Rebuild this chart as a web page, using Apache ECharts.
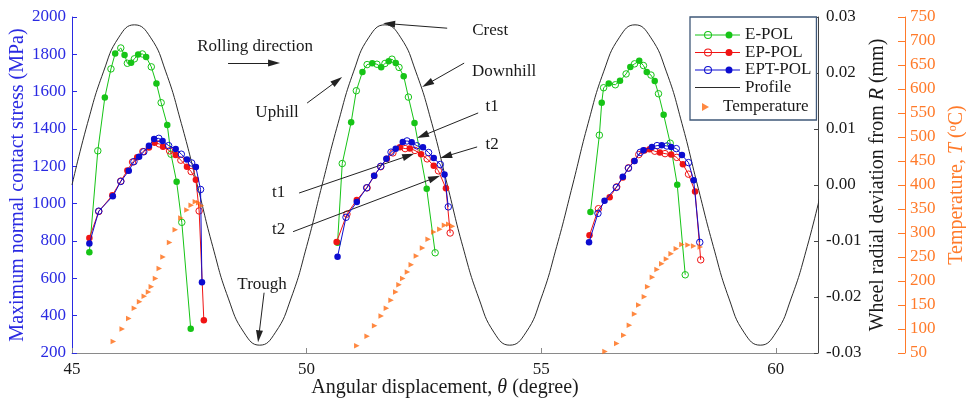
<!DOCTYPE html>
<html>
<head>
<meta charset="utf-8">
<title>Contact stress, profile and temperature vs angular displacement</title>
<script src="https://cdn.jsdelivr.net/npm/echarts@6/dist/echarts.min.js"></script>
<style>
  html, body { margin: 0; padding: 0; background: #fff; }
  #chart { width: 966px; height: 403px; }
</style>
</head>
<body>
<div id="chart"></div>
<script>
// ---------- data ----------
// Wheel profile: angular position (degree) and radial deviation from R (mm)
const profileDeg = [45, 45.33, 45.67, 46, 46.33, 46.67, 47, 47.33, 47.67, 48, 48.33, 48.67,
  49, 49.33, 49.67, 50, 50.33, 50.67, 51, 51.33, 51.67, 52, 52.33, 52.67,
  53, 53.33, 53.67, 54, 54.33, 54.67, 55, 55.33, 55.67, 56, 56.33, 56.67,
  57, 57.33, 57.67, 58, 58.33, 58.67, 59, 59.33, 59.67, 60, 60.33, 60.67, 61];
const profileDev = [0, 0.0110, 0.0202, 0.0264, 0.0286, 0.0264, 0.0202, 0.0110,
  0, -0.0110, -0.0202, -0.0264, -0.0286, -0.0264, -0.0202, -0.0110,
  0, 0.0110, 0.0202, 0.0264, 0.0286, 0.0264, 0.0202, 0.0110,
  0, -0.0110, -0.0202, -0.0264, -0.0286, -0.0264, -0.0202, -0.0110,
  0, 0.0110, 0.0202, 0.0264, 0.0286, 0.0264, 0.0202, 0.0110,
  0, -0.0110, -0.0202, -0.0264, -0.0286, -0.0264, -0.0202, -0.0110, 0];

// Maximum normal contact stress [degree, MPa]; "open" and "solid" sample sets per passage
const ePolSolid1 = [[45.37, 740], [45.70, 1569], [45.92, 1804], [46.12, 1797], [46.26, 1755], [46.41, 1799], [46.58, 1786], [46.80, 1644], [47.03, 1422], [47.23, 1117], [47.53, 330]];
const ePolOpen1 = [[45.55, 1283], [45.83, 1722], [46.04, 1834], [46.18, 1752], [46.33, 1776], [46.50, 1802], [46.69, 1733], [46.90, 1541], [47.11, 1265], [47.34, 900]];
const ePolSolid2 = [[50.66, 790], [50.95, 1436], [51.19, 1706], [51.40, 1752], [51.59, 1731], [51.75, 1763], [51.90, 1754], [52.07, 1683], [52.30, 1432], [52.56, 1080]];
const ePolOpen2 = [[50.76, 1215], [51.06, 1605], [51.29, 1745], [51.50, 1747], [51.67, 1751], [51.82, 1774], [51.97, 1730], [52.17, 1571], [52.74, 737]];
const ePolSolid3 = [[56.05, 955], [56.29, 1541], [56.44, 1644], [56.68, 1658], [56.90, 1732], [57.09, 1765], [57.25, 1706], [57.42, 1657], [57.61, 1477], [57.90, 1101]];
const ePolOpen3 = [[56.24, 1367], [56.33, 1621], [56.58, 1637], [56.81, 1695], [56.99, 1749], [57.18, 1740], [57.34, 1689], [57.50, 1589], [57.75, 1324], [58.07, 619]];

const epPolSolid1 = [[45.37, 816], [45.86, 1045], [46.18, 1178], [46.39, 1248], [46.64, 1301], [46.76, 1326], [46.94, 1305], [47.21, 1261], [47.45, 1198], [47.64, 1128], [47.81, 375]];
const epPolOpen1 = [[45.57, 958], [46.04, 1121], [46.29, 1223], [46.51, 1279], [46.86, 1320], [47.08, 1283], [47.32, 1233], [47.54, 1172], [47.71, 961]];
const epPolSolid2 = [[50.64, 795], [51.07, 1020], [51.44, 1150], [51.71, 1240], [51.99, 1302], [52.20, 1296], [52.44, 1265], [52.71, 1203], [52.97, 1082]];
const epPolOpen2 = [[50.86, 944], [51.29, 1085], [51.58, 1198], [51.84, 1272], [52.10, 1295], [52.31, 1285], [52.57, 1240], [52.81, 1176], [53.06, 843]];
const epPolSolid3 = [[56.03, 831], [56.46, 1035], [56.74, 1140], [56.98, 1228], [57.20, 1285], [57.31, 1292], [57.53, 1274], [57.77, 1263], [58.02, 1211], [58.28, 1065]];
const epPolOpen3 = [[56.22, 973], [56.61, 1090], [56.86, 1192], [57.08, 1263], [57.42, 1281], [57.64, 1268], [57.89, 1248], [58.14, 1158], [58.40, 699]];

const eptPolSolid1 = [[45.37, 786], [45.87, 1040], [46.21, 1176], [46.43, 1251], [46.64, 1310], [46.75, 1347], [46.93, 1336], [47.21, 1293], [47.45, 1236], [47.64, 1196], [47.77, 579]];
const eptPolOpen1 = [[45.57, 960], [46.04, 1119], [46.32, 1225], [46.53, 1278], [46.85, 1350], [47.06, 1311], [47.33, 1265], [47.55, 1218], [47.74, 1076]];
const eptPolSolid2 = [[50.66, 716], [51.07, 1009], [51.44, 1149], [51.70, 1240], [51.90, 1294], [52.05, 1331], [52.24, 1329], [52.48, 1302], [52.71, 1244], [52.94, 1156]];
const eptPolOpen2 = [[50.84, 927], [51.28, 1085], [51.58, 1200], [51.80, 1276], [52.14, 1336], [52.35, 1310], [52.60, 1274], [52.85, 1210], [53.02, 983]];
const eptPolSolid3 = [[56.02, 793], [56.35, 1016], [56.74, 1144], [56.99, 1229], [57.18, 1286], [57.36, 1304], [57.57, 1313], [57.77, 1304], [58.00, 1261], [58.25, 1126]];
const eptPolOpen3 = [[56.21, 948], [56.60, 1087], [56.86, 1190], [57.11, 1275], [57.47, 1311], [57.68, 1309], [57.88, 1295], [58.14, 1220], [58.38, 793]];

// Contact temperature [degree, °C]
const temp1 = [[45.88, 74], [46.07, 100], [46.21, 122], [46.33, 143], [46.44, 157], [46.54, 168], [46.63, 177], [46.69, 188], [46.78, 205], [46.86, 226], [46.94, 250], [47.08, 280], [47.20, 307], [47.32, 331], [47.45, 348], [47.54, 358], [47.63, 365], [47.70, 363], [47.76, 357]];
const temp2 = [[51.07, 65], [51.29, 85], [51.45, 107], [51.59, 127], [51.70, 143], [51.80, 160], [51.90, 177], [51.97, 192], [52.05, 205], [52.15, 219], [52.23, 234], [52.34, 252], [52.47, 269], [52.59, 287], [52.71, 302], [52.84, 308], [52.94, 316], [53.03, 318], [53.11, 314]];
const temp3 = [[56.36, 53], [56.61, 70], [56.76, 87], [56.88, 108], [56.99, 131], [57.08, 150], [57.20, 167], [57.27, 188], [57.37, 208], [57.47, 224], [57.57, 236], [57.67, 246], [57.77, 257], [57.88, 267], [58.00, 276], [58.13, 275], [58.25, 273], [58.39, 271]];

// Axis ranges and tick steps
const angleRange = [45, 60.9], angleStep = 5;
const stressRange = [200, 2000], stressStep = 200;
const devRange = [-0.03, 0.03], devStep = 0.01;
const tempRange = [50, 750], tempStep = 50;

// Annotations: text with its anchor [degree, MPa], arrows from -> to in the same units
const noteTexts = [
  ['Rolling direction', 48.902, 1843],
  ['Uphill', 49.371, 1486],
  ['Crest', 53.913, 1929],
  ['Downhill', 54.211, 1710],
  ['t1', 53.955, 1523],
  ['t2', 53.955, 1315],
  ['t1', 49.403, 1058],
  ['t2', 49.403, 860],
  ['Trough', 49.051, 566]
];
const noteArrows = [
  [[48.326, 1753], [49.307, 1753]],
  [[50.011, 1539], [50.655, 1659]],
  [[52.996, 1940], [51.759, 1964]],
  [[53.358, 1753], [52.574, 1641]],
  [[53.657, 1486], [52.473, 1364]],
  [[53.635, 1304], [52.970, 1254]],
  [[49.840, 1057], [52.171, 1257]],
  [[49.712, 850], [52.727, 1138]],
  [[49.094, 523], [48.981, 289]]
];

// ---------- styling ----------
const FONT = 'Liberation Serif';
const TXT = '#1a1a1a';
const BLUE_AXIS = '#2a2ae2';
const ORANGE = '#ff7a2a';
const ORANGE_MARK = '#ff6a12';
const GREEN = '#16c416';
const RED = '#f01414';
const BLUE = '#0c0cd0';
const PROFILE = '#2b2b2b';

// legend glyphs: line with an open and a solid circle / plain line / right-pointing triangle
const markerIcon = 'path://M0 3.5H45V4.5H0Z' +
  'M9 4A4 4 0 1 1 17 4A4 4 0 1 1 9 4Z M10 4A3 3 0 1 0 16 4A3 3 0 1 0 10 4Z' +
  'M30.5 4A3.5 3.5 0 1 1 37.5 4A3.5 3.5 0 1 1 30.5 4Z';
const lineIcon = 'path://M0 3.5H45V4.5H0Z M0 0h0.01v0.01h-0.01Z M44.99 7.99h0.01v0.01h-0.01Z';
const triIcon = 'path://M0 0L7 4L0 8Z M15.99 3.99h0.01v0.01h-0.01Z';

function mergeRun(openPts, solidPts) {
  const pts = openPts.map(p => ({ p, open: true }))
    .concat(solidPts.map(p => ({ p, open: false })));
  pts.sort((a, b) => a.p[0] - b.p[0]);
  return pts;
}

function stressSeries(name, color, openPts, solidPts, z) {
  return {
    name, type: 'line', xAxisIndex: 0, yAxisIndex: 0, z,
    symbol: 'circle', symbolSize: 6.5, showSymbol: true,
    lineStyle: { color, width: 1 },
    itemStyle: { color, borderWidth: 0 },
    emphasis: { disabled: true },
    data: mergeRun(openPts, solidPts).map(d => d.open
      ? { value: d.p, itemStyle: { color: 'rgba(0,0,0,0)', borderColor: color, borderWidth: 1 } }
      : { value: d.p })
  };
}

function tempSeries(pts) {
  return {
    name: 'Temperature', type: 'scatter', xAxisIndex: 0, yAxisIndex: 2, z: 6,
    symbol: 'triangle', symbolRotate: -90, symbolSize: 5.5,
    itemStyle: { color: ORANGE_MARK },
    emphasis: { disabled: true },
    data: pts
  };
}

const labelFont = { fontFamily: FONT, fontSize: 17 };
const plain = v => String(v);

const option = {
  animation: false,
  backgroundColor: '#fff',
  textStyle: { fontFamily: FONT },
  grid: { left: 72, right: 148, top: 17, bottom: 50, outerBoundsMode: 'none' },
  xAxis: {
    type: 'value', min: angleRange[0], max: angleRange[1], interval: angleStep,
    axisLine: { onZero: false, lineStyle: { color: '#8a8a8a', width: 1 } },
    axisTick: { inside: true, length: 5, lineStyle: { color: '#8a8a8a' } },
    axisLabel: Object.assign({ color: TXT, margin: 8, showMaxLabel: false, formatter: plain }, labelFont),
    splitLine: { show: false },
    name: 'Angular displacement, {i|θ} (degree)',
    nameLocation: 'middle', nameGap: 25, nameMoveOverlap: false,
    nameTextStyle: {
      color: TXT, fontFamily: FONT, fontSize: 20,
      rich: { i: { fontStyle: 'italic', fontFamily: FONT, fontSize: 20, color: TXT } }
    }
  },
  yAxis: [
    {
      type: 'value', position: 'left', min: stressRange[0], max: stressRange[1], interval: stressStep,
      axisLine: { show: true, onZero: false, lineStyle: { color: BLUE_AXIS, width: 1 } },
      axisTick: { show: true, inside: true, length: 5, lineStyle: { color: BLUE_AXIS } },
      axisLabel: Object.assign({ color: BLUE_AXIS, margin: 6, formatter: plain }, labelFont),
      splitLine: { show: false },
      name: 'Maximum normal contact stress (MPa)',
      nameLocation: 'middle', nameGap: 44, nameMoveOverlap: false,
      nameTextStyle: { color: BLUE_AXIS, fontFamily: FONT, fontSize: 20 }
    },
    {
      type: 'value', position: 'right', min: devRange[0], max: devRange[1], interval: devStep,
      axisLine: { show: true, onZero: false, lineStyle: { color: '#444', width: 1 } },
      axisTick: { show: true, inside: true, length: 4, lineStyle: { color: '#444' } },
      axisLabel: Object.assign({ color: TXT, margin: 8, formatter: v => v.toFixed(2) }, labelFont),
      splitLine: { show: false },
      name: 'Wheel radial deviation from {i|R} (mm)',
      nameLocation: 'middle', nameGap: 50, nameMoveOverlap: false,
      nameTextStyle: {
        color: TXT, fontFamily: FONT, fontSize: 20,
        rich: { i: { fontStyle: 'italic', fontFamily: FONT, fontSize: 20, color: TXT } }
      }
    },
    {
      type: 'value', position: 'right', offset: 87, min: tempRange[0], max: tempRange[1], interval: tempStep,
      axisLine: { show: true, onZero: false, lineStyle: { color: ORANGE, width: 1 } },
      axisTick: { show: true, inside: true, length: 7, lineStyle: { color: ORANGE } },
      axisLabel: Object.assign({ color: ORANGE, margin: 5, formatter: plain }, labelFont),
      splitLine: { show: false },
      name: 'Temperature, {i|T} ({s|o}C)',
      nameLocation: 'middle', nameGap: 42, nameMoveOverlap: false,
      nameTextStyle: {
        color: ORANGE, fontFamily: FONT, fontSize: 20,
        rich: {
          i: { fontStyle: 'italic', fontFamily: FONT, fontSize: 20, color: ORANGE },
          s: { fontFamily: FONT, fontSize: 12, color: ORANGE, verticalAlign: 'top' }
        }
      }
    }
  ],
  legend: [
    {
      orient: 'vertical', left: 690, top: 17,
      padding: [9.5, 5, 24, 5], itemGap: 0.5,
      itemWidth: 45, itemHeight: 8,
      backgroundColor: '#fff', borderColor: '#3f5878', borderWidth: 1.3,
      selectedMode: false,
      itemStyle: { borderWidth: 0 },
      textStyle: { color: TXT, fontFamily: FONT, fontSize: 17, lineHeight: 17 },
      data: [
        { name: 'E-POL', icon: markerIcon },
        { name: 'EP-POL', icon: markerIcon },
        { name: 'EPT-POL', icon: markerIcon },
        { name: 'Profile', icon: lineIcon }
      ]
    },
    {
      orient: 'vertical', left: 702, top: 98.5, z: 5,
      padding: 0, itemWidth: 16, itemHeight: 8,
      selectedMode: false,
      itemStyle: { borderWidth: 0 },
      textStyle: { color: TXT, fontFamily: FONT, fontSize: 17, lineHeight: 17 },
      data: [{ name: 'Temperature', icon: triIcon }]
    }
  ],
  series: [
    {
      name: 'Profile', type: 'line', xAxisIndex: 0, yAxisIndex: 1, z: 1,
      data: profileDeg.map((d, i) => [d, profileDev[i]]),
      smooth: 0.5, symbol: 'none', showSymbol: false,
      lineStyle: { color: PROFILE, width: 1 },
      itemStyle: { color: PROFILE },
      emphasis: { disabled: true }
    },
    stressSeries('E-POL', GREEN, ePolOpen1, ePolSolid1, 3),
    stressSeries('E-POL', GREEN, ePolOpen2, ePolSolid2, 3),
    stressSeries('E-POL', GREEN, ePolOpen3, ePolSolid3, 3),
    stressSeries('EP-POL', RED, epPolOpen1, epPolSolid1, 4),
    stressSeries('EP-POL', RED, epPolOpen2, epPolSolid2, 4),
    stressSeries('EP-POL', RED, epPolOpen3, epPolSolid3, 4),
    stressSeries('EPT-POL', BLUE, eptPolOpen1, eptPolSolid1, 5),
    stressSeries('EPT-POL', BLUE, eptPolOpen2, eptPolSolid2, 5),
    stressSeries('EPT-POL', BLUE, eptPolOpen3, eptPolSolid3, 5),
    tempSeries(temp1),
    tempSeries(temp2),
    tempSeries(temp3),
    {
      name: 'notes', type: 'scatter', xAxisIndex: 0, yAxisIndex: 0, z: 7,
      silent: true, data: [],
      markLine: {
        silent: true, animation: false,
        symbol: ['none', 'triangle'], symbolSize: 10,
        lineStyle: { color: '#222', width: 1, type: 'solid' },
        itemStyle: { color: '#111' },
        label: { show: false },
        emphasis: { disabled: true },
        data: noteArrows.map(a => [
          { coord: a[0], symbol: 'none' },
          { coord: a[1], symbol: 'triangle', symbolSize: [7, 12] }
        ])
      },
      markPoint: {
        silent: true, animation: false,
        symbol: 'rect', symbolSize: 1,
        itemStyle: { color: 'rgba(0,0,0,0)' },
        label: { show: true, position: 'inside', formatter: '{b}', color: TXT, fontFamily: FONT, fontSize: 17 },
        data: noteTexts.map(n => ({ name: n[0], coord: [n[1], n[2]] }))
      }
    }
  ]
};

const chart = echarts.init(document.getElementById('chart'), null, { renderer: 'canvas', width: 966, height: 403 });
chart.setOption(option);
</script>
</body>
</html>
